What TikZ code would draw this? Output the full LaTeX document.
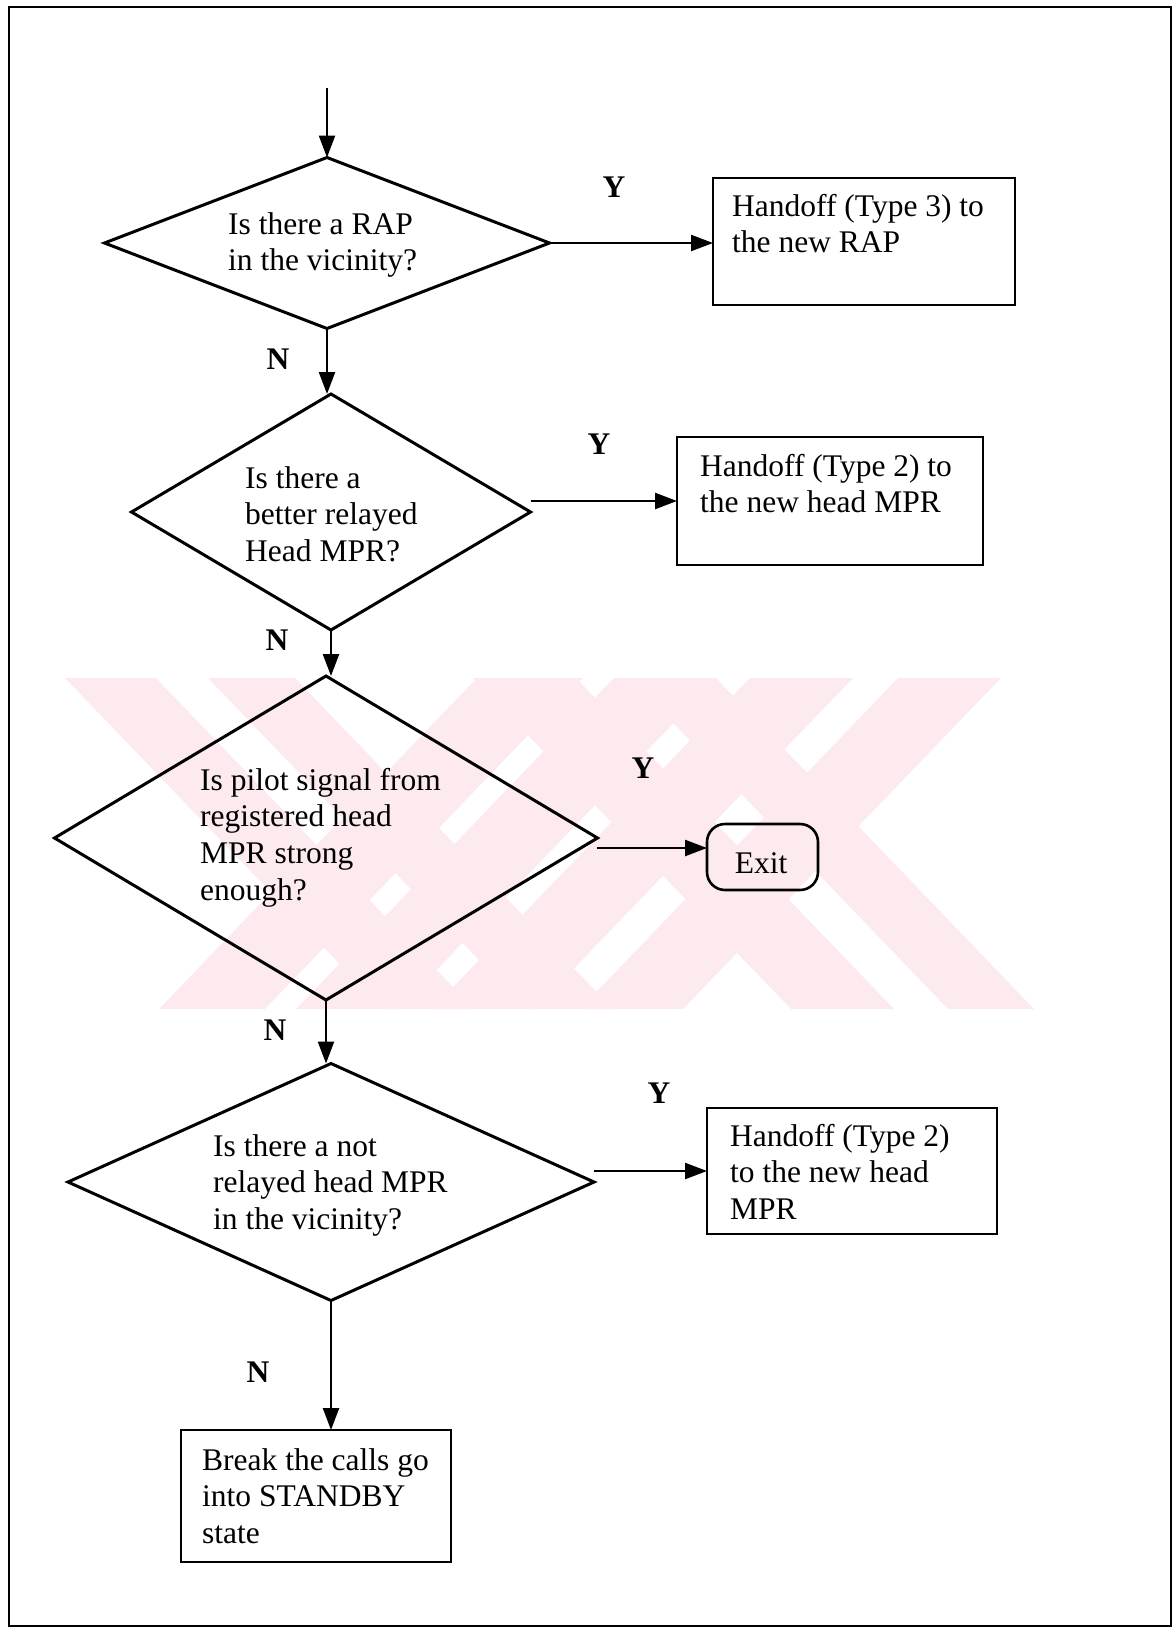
\documentclass[tikz,border=0pt]{standalone}
\usepackage{fontspec}
\setmainfont{Liberation Serif}
\usetikzlibrary{shapes.geometric,arrows.meta,calc}
\definecolor{wm}{RGB}{252,234,238}
\newcommand{\tl}[1]{\begin{tabular}[t]{@{}l@{}}#1\end{tabular}}
\begin{document}
\begin{tikzpicture}[x=1pt,y=-1pt,
  every node/.style={font=\fontsize{31.5}{36.7}\selectfont},
  dia/.style={draw,shape=diamond,line width=3pt,inner sep=0pt,outer sep=0pt},
  box/.style={draw,rectangle,line width=2.6pt,inner sep=0pt,outer sep=0pt,anchor=north west},
  txt/.style={anchor=base west,inner sep=0pt},
  lbl/.style={font=\fontsize{31.5}{36.7}\selectfont\bfseries,inner sep=0pt},
  arr/.style={line width=2.4pt,-{Triangle[length=22pt,width=16pt]}}]
\useasboundingbox (0,0) rectangle (1174,1628);
% watermark
\begin{scope}[fill=wm]
\fill (65,678) -- (156,678) -- (474,1009) -- (383,1009) -- cycle;
\fill (208,678) -- (295,678) -- (613,1009) -- (526,1009) -- cycle;
\fill (477,678) -- (583,678) -- (265,1009) -- (159,1009) -- cycle;
\fill (614,678) -- (717,678) -- (399,1009) -- (296,1009) -- cycle;
\fill (750,678) -- (853,678) -- (535,1009) -- (432,1009) -- cycle;
\fill (898,678) -- (1001,678) -- (683,1009) -- (580,1009) -- cycle;
\fill (473,678) -- (576,678) -- (894,1009) -- (791,1009) -- cycle;
\fill (630,678) -- (716,678) -- (1034,1009) -- (948,1009) -- cycle;
\end{scope}
% frame
\draw[line width=2.8pt] (9,7) rectangle (1171,1626);
% decisions
\node[dia,minimum width=445pt,minimum height=171pt] (d1) at (327,243) {};
\node[dia,minimum width=399pt,minimum height=236pt] (d2) at (331,512) {};
\node[dia,minimum width=543pt,minimum height=324pt] (d3) at (326,838) {};
\node[dia,minimum width=526pt,minimum height=237pt] (d4) at (331,1182) {};
% boxes
\node[box,minimum width=302pt,minimum height=127pt] (b1) at (713,178) {};
\node[box,minimum width=306pt,minimum height=128pt] (b2) at (677,437) {};
\node[box,rounded corners=18pt,minimum width=111pt,minimum height=66pt] (ex) at (707,824) {};
\node[box,minimum width=290pt,minimum height=126pt] (b4) at (707,1108) {};
\node[box,minimum width=270pt,minimum height=132pt] (b5) at (181,1430) {};
% texts
\node[txt] (t1) at (228,234) {\tl{Is there a RAP\\in the vicinity?}};
\node[txt] (t2) at (245,488) {\tl{Is there a\\better relayed\\Head MPR?}};
\node[txt] (t3) at (200,790) {\tl{Is pilot signal from\\registered head\\MPR strong\\enough?}};
\node[txt] (t4) at (213,1156) {\tl{Is there a not\\relayed head MPR\\in the vicinity?}};
\node[txt] (tb1) at (732,216) {\tl{Handoff (Type 3) to\\the new RAP}};
\node[txt] (tb2) at (700,476) {\tl{Handoff (Type 2) to\\the new head MPR}};
\node[anchor=base,inner sep=0pt] (tex) at (761,873) {Exit};
\node[txt] (tb4) at (730,1146) {\tl{Handoff (Type 2)\\to the new head\\MPR}};
\node[txt] (tb5) at (202,1470) {\tl{Break the calls go\\into STANDBY\\state}};
% labels
\node[lbl] (y1) at (614,187) {Y};
\node[lbl] (n1) at (278,359) {N};
\node[lbl] (y2) at (599,444) {Y};
\node[lbl] (n2) at (277,640) {N};
\node[lbl] (y3) at (643,768) {Y};
\node[lbl] (n3) at (275,1030) {N};
\node[lbl] (y4) at (659,1093) {Y};
\node[lbl] (n4) at (258,1372) {N};
% connectors
\coordinate (start) at (327,88);
\coordinate (e3) at (597,848);
\draw[arr] (start) -- (d1.north);
\draw[arr] (d1.south) -- (d1.south |- d2.north);
\draw[arr] (d2.south) -- (d2.south |- d3.north);
\draw[arr] (d3.south) -- (d3.south |- d4.north);
\draw[arr] (d4.south) -- (d4.south |- b5.north);
\draw[arr] (d1.east) -- (d1.east -| b1.west);
\draw[arr] (d2.east |- b2.west) -- (b2.west);
\draw[arr] (e3) -- (e3 -| ex.west);
\draw[arr] (d4.east |- b4.west) -- (b4.west);
\end{tikzpicture}
\end{document}
